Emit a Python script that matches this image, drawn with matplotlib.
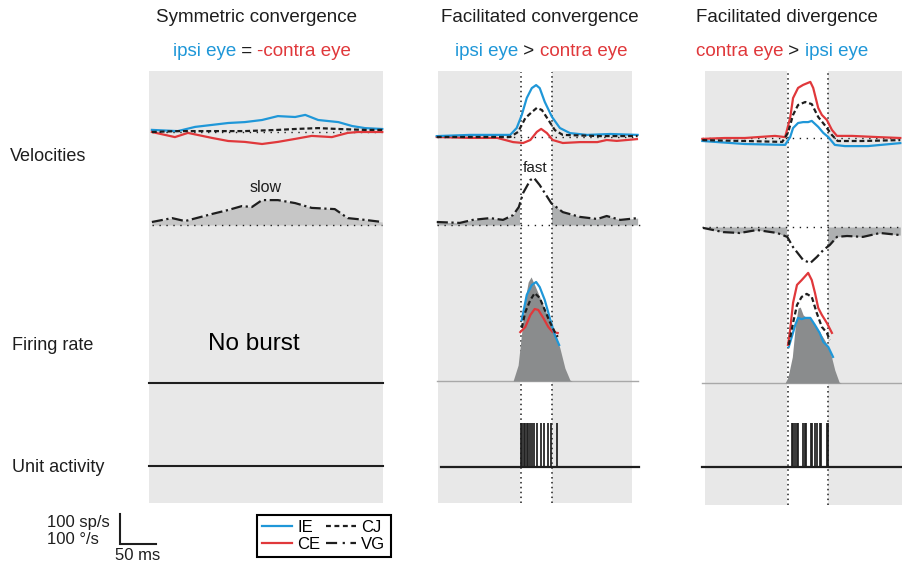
import matplotlib
matplotlib.use("Agg")
import matplotlib.pyplot as plt
from matplotlib.lines import Line2D
from matplotlib.patches import Rectangle
from matplotlib.offsetbox import TextArea, HPacker, AnnotationBbox

plt.rcParams['font.family'] = ['Liberation Sans', 'DejaVu Sans']

BLUE = '#1f97d8'
RED = '#e0383b'
INK = '#1e1e1e'
PANEL = '#e8e8e8'
FILL_SLOW = '#c6c6c6'
FILL_VG = '#aeb0b1'
FILL_FR = '#8a8c8d'

# ---------------- data (time in ms, values in deg/s or sp/s) ----------------
# Column 1: symmetric convergence (t from panel start)
c1_ie_t = [4, 40, 64, 110, 133, 157, 179, 203, 217, 235, 263, 282, 300, 324]
c1_ie_v = [7, 3, 17, 30, 33, 40, 53, 50, 57, 40, 33, 20, 13, 10]
c1_ce_t = [4, 36, 54, 88, 110, 133, 157, 179, 203, 226, 254, 276, 290, 324]
c1_ce_v = [0, -17, -3, -20, -30, -33, -40, -33, -23, -13, -17, -3, 0, 0]
c1_cj_t = [4, 40, 88, 133, 179, 203, 235, 263, 300, 324]
c1_cj_v = [0, 3, 3, 3, 7, 10, 13, 10, 7, 7]
c1_vg_t = [4, 32, 50, 88, 110, 129, 143, 157, 179, 203, 226, 258, 276, 300, 324]
c1_vg_v = [10, 23, 13, 37, 50, 63, 60, 83, 83, 73, 57, 53, 23, 17, 10]

# Column 2: facilitated convergence (t from burst onset)
c2_ie_t = [-117, -71, -15, -6, 1, 8, 15, 21, 26, 33, 43, 54, 68, 92, 124, 162]
c2_ie_v = [3, 7, 7, 30, 73, 130, 163, 173, 163, 117, 67, 30, 13, 7, 10, 7]
c2_cj_t = [-117, -15, -4, 6, 15, 22, 29, 38, 47, 58, 110, 162]
c2_cj_v = [0, 0, 17, 63, 83, 97, 90, 57, 23, 7, 3, 3]
c2_ce_t = [-117, -71, -33, -11, 3, 13, 22, 28, 36, 44, 58, 82, 106, 119, 133, 161]
c2_ce_v = [0, -3, -3, -17, -20, -10, 17, 27, 13, -10, -20, -17, -17, -10, -13, -7]
c2_vg_t = [-117, -85, -67, -43, -25, -11, -3, 3, 13, 18, 26, 42, 58, 82, 106, 119, 138, 162]
c2_vg_v = [10, 7, 17, 23, 17, 33, 60, 107, 150, 157, 133, 73, 43, 27, 20, 30, 17, 23]
c2_fr_t = [-11, -4, 1, 6, 10, 14, 19, 29, 38, 47, 54, 61, 68, 71]
c2_fr_v = [0, 53, 163, 277, 330, 347, 320, 263, 210, 163, 110, 43, 3, 0]
c2_fie_t = [1, 8, 15, 21, 26, 33, 40, 47, 53]
c2_fie_v = [203, 287, 320, 330, 313, 270, 210, 153, 120]
c2_fce_t = [-1, 6, 13, 19, 24, 31, 38, 44, 51]
c2_fce_v = [163, 180, 220, 240, 237, 210, 180, 163, 160]
c2_fcj_t = [1, 6, 13, 19, 26, 33, 40, 47, 51]
c2_fcj_v = [177, 230, 270, 293, 277, 237, 197, 163, 147]
c2_spikes = [0, 2, 4, 6, 8, 10, 12.5, 15, 18, 22, 28, 32, 37.5, 42, 50]
c2_gap = (0, 43)

# Column 3: facilitated divergence (t from burst onset)
c3_ce_t = [-119, -88, -60, -18, -4, 3, 7, 14, 21, 31, 35, 42, 47, 54, 61, 68, 89, 125, 156]
c3_ce_v = [-3, 0, 0, 7, 3, 67, 133, 167, 177, 187, 167, 100, 77, 60, 27, 7, 7, 3, 0]
c3_cj_t = [-119, -60, -8, 0, 7, 14, 24, 33, 42, 51, 61, 69, 103, 156]
c3_cj_v = [-7, -10, -13, 17, 77, 110, 120, 113, 70, 43, 10, -10, -10, -7]
c3_ie_t = [-119, -60, -4, 3, 7, 14, 21, 28, 33, 42, 49, 56, 65, 79, 111, 156]
c3_ie_v = [-10, -20, -23, 3, 33, 50, 53, 53, 57, 37, 17, 3, -23, -27, -27, -17]
c3_vg_t = [-118, -90, -67, -43, -15, -1, 7, 21, 31, 40, 49, 58, 68, 82, 104, 128, 156]
c3_vg_v = [-3, -17, -20, -10, -20, -33, -67, -110, -120, -100, -77, -60, -33, -30, -33, -20, -27]
c3_fr_t = [-4, 0, 6, 10, 14, 17, 21, 26, 31, 37.5, 44, 51, 58, 65, 71, 74]
c3_fr_v = [0, 20, 87, 187, 250, 253, 227, 217, 217, 193, 170, 143, 110, 43, 3, 0]
c3_fce_t = [0, 3, 7, 12.5, 19, 28, 33, 37.5, 42, 47, 54, 61]
c3_fce_v = [127, 177, 267, 327, 343, 367, 343, 300, 250, 227, 200, 167]
c3_fcj_t = [1, 7, 12.5, 19, 26, 33, 40, 47, 54, 58]
c3_fcj_v = [127, 200, 260, 287, 297, 287, 233, 187, 167, 143]
c3_fie_t = [1, 6, 10, 14, 19, 24, 31, 37.5, 44, 49, 56, 62.5]
c3_fie_v = [120, 160, 193, 217, 213, 217, 217, 193, 167, 137, 120, 87]
c3_spikes = [5.5, 7.5, 10, 12, 14, 21, 23, 25, 32, 34, 37.5, 40, 44, 46, 54, 56]
c3_gap = (0, 56)

# ---------------- layout ----------------
W, H = 902, 564
KX = 0.72   # px per ms
KY = 0.30   # px per unit
TOP, BOT = 60, 515
REF_PY = 467

fig = plt.figure(figsize=(W / 100, H / 100), dpi=100)


def ty(py):
    return (REF_PY - py) / KY


def make_ax(L, R, px0):
    ax = fig.add_axes([L / W, 1 - BOT / H, (R - L) / W, (BOT - TOP) / H])
    ax.set_xlim((L - px0) / KX, (R - px0) / KX)
    ax.set_ylim(ty(BOT), ty(TOP))
    ax.axis('off')
    tx = lambda px: (px - px0) / KX
    return ax, tx


LW = 1.6
DASH_CJ = (0, (2.2, 1.3))
DASH_VG = (0, (5, 1.6, 1, 1.6))
DOT = (0, (1, 4))
VDOT = (0, (1, 2.2))


def shifted(vals, base):
    return [base + v for v in vals]


def hline(ax, x0, x1, y, **kw):
    ax.plot([x0, x1], [y, y], **kw)


# ----- column 1 -----
ax1, tx1 = make_ax(140, 395, 149)
ax1.add_patch(Rectangle((tx1(149), ty(503)), (383 - 149) / KX, (503 - 71) / KY,
                        color=PANEL, lw=0, zorder=0))
b_vel, b_vg, b_fr, b_un = ty(132), ty(225), ty(383), ty(466)
ax1.fill_between(c1_vg_t, b_vg, shifted(c1_vg_v, b_vg), color=FILL_SLOW, lw=0, zorder=1)
hline(ax1, tx1(152), tx1(382), b_vg, color=INK, lw=1, ls=DOT, zorder=3)
hline(ax1, tx1(152), tx1(382), b_vel, color=INK, lw=1, ls=DOT, zorder=3)
ax1.plot(c1_vg_t, shifted(c1_vg_v, b_vg), color=INK, lw=LW, ls=DASH_VG, zorder=4)
ax1.plot(c1_ie_t, shifted(c1_ie_v, b_vel), color=BLUE, lw=LW, zorder=4)
ax1.plot(c1_ce_t, shifted(c1_ce_v, b_vel), color=RED, lw=LW, zorder=4)
ax1.plot(c1_cj_t, shifted(c1_cj_v, b_vel), color=INK, lw=LW, ls=DASH_CJ, zorder=5)
hline(ax1, tx1(149), tx1(383), b_fr, color=INK, lw=1.5, zorder=4)
hline(ax1, tx1(149), tx1(383), b_un, color=INK, lw=1.5, zorder=4)
ax1.text(tx1(266), ty(187), 'slow', ha='center', va='center', fontsize=11.5, color=INK)
ax1.text(tx1(254), ty(344), 'No burst', ha='center', va='center', fontsize=17.5, color='black')

# scale bar (100 units x 50 ms) drawn in column-1 data units
sx, sy = tx1(120), ty(544)
ax1.plot([sx, sx, sx + 50], [sy + 100, sy, sy], color=INK, lw=1.5, clip_on=False,
         solid_joinstyle='miter')


def facil_column(ax, tx, gray_l, gray_r, gray_b, gap, x_left, x_right,
                 bases, vel, vg, fr, frl, spikes, un_left):
    b_vel, b_vg, b_fr, b_un = bases
    ax.add_patch(Rectangle((tx(gray_l), ty(gray_b)), (gray_r - gray_l) / KX,
                           (gray_b - 71) / KY, color=PANEL, lw=0, zorder=0))
    vt, vv = vg
    ax.fill_between(vt, b_vg, shifted(vv, b_vg), color=FILL_VG, lw=0, zorder=1)
    g0, g1 = gap
    ax.add_patch(Rectangle((g0 - 1.4, ty(gray_b + 2)), (g1 - g0) + 1.4, (gray_b + 2 - 60) / KY,
                           color='white', lw=0, zorder=2))
    for g in gap:
        ax.plot([g, g], [ty(gray_b), ty(72)], color=INK, lw=1.1, ls=VDOT, zorder=3)
    hline(ax, tx(x_left), tx(x_right), b_vel, color=INK, lw=1, ls=DOT, zorder=3)
    hline(ax, tx(x_left), tx(x_right + 2), b_vg, color=INK, lw=1, ls=DOT, zorder=3)
    hline(ax, tx(x_left), tx(x_right), b_fr, color='#a8a8a8', lw=1, zorder=3)
    hline(ax, tx(un_left), tx(x_right + 1), b_un, color=INK, lw=1.6, zorder=4)
    ax.plot(vt, shifted(vv, b_vg), color=INK, lw=LW, ls=DASH_VG, zorder=4)
    ft, fv = fr
    ax.fill_between(ft, b_fr, shifted(fv, b_fr), color=FILL_FR, lw=0, zorder=3)
    for (t, v, col, ls) in vel:
        ax.plot(t, shifted(v, b_vel), color=col, lw=LW, ls=ls, zorder=4)
    for (t, v, col, ls) in frl:
        ax.plot(t, shifted(v, b_fr), color=col, lw=LW, ls=ls, zorder=4)
    ax.vlines(spikes, b_un, b_un + 44 / KY, color=INK, lw=1.25, zorder=4)


# ----- column 2 -----
ax2, tx2 = make_ax(430, 645, 521)
facil_column(ax2, tx2, 438, 632, 503, c2_gap, 437, 638,
             (ty(137), ty(225), ty(381), ty(467)),
             [(c2_ce_t, c2_ce_v, RED, '-'), (c2_ie_t, c2_ie_v, BLUE, '-'),
              (c2_cj_t, c2_cj_v, INK, DASH_CJ)],
             (c2_vg_t, c2_vg_v), (c2_fr_t, c2_fr_v),
             [(c2_fce_t, c2_fce_v, RED, '-'), (c2_fie_t, c2_fie_v, BLUE, '-'),
              (c2_fcj_t, c2_fcj_v, INK, DASH_CJ)],
             c2_spikes, 441)
ax2.text(tx2(535), ty(168), 'fast', ha='center', va='center', fontsize=11, color=INK)

# ----- column 3 -----
ax3, tx3 = make_ax(695, 902, 788)
facil_column(ax3, tx3, 705, 902, 505, c3_gap, 702, 902,
             (ty(138), ty(227), ty(383), ty(467)),
             [(c3_ie_t, c3_ie_v, BLUE, '-'), (c3_ce_t, c3_ce_v, RED, '-'),
              (c3_cj_t, c3_cj_v, INK, DASH_CJ)],
             (c3_vg_t, c3_vg_v), (c3_fr_t, c3_fr_v),
             [(c3_fie_t, c3_fie_v, BLUE, '-'), (c3_fce_t, c3_fce_v, RED, '-'),
              (c3_fcj_t, c3_fcj_v, INK, DASH_CJ)],
             c3_spikes, 702)

# ---------------- text ----------------
def ftext(x, y, s, **kw):
    fig.text(x / W, 1 - y / H, s, **kw)


def colored_line(parts, xc, yc, size):
    areas = [TextArea(s, textprops=dict(color=c, fontsize=size)) for s, c in parts]
    box = HPacker(children=areas, align='baseline', pad=0, sep=0)
    ab = AnnotationBbox(box, (xc / W, 1 - yc / H), xycoords='figure fraction',
                        frameon=False, box_alignment=(0.5, 0.5), pad=0)
    fig.add_artist(ab)


TS = 13.5
ftext(256, 18, 'Symmetric convergence', ha='center', va='center', fontsize=TS, color=INK)
ftext(540, 18, 'Facilitated convergence', ha='center', va='center', fontsize=TS, color=INK)
ftext(787, 18, 'Facilitated divergence', ha='center', va='center', fontsize=TS, color=INK)
colored_line([('ipsi eye', BLUE), (' = ', INK), ('-contra eye', RED)], 262, 52, TS)
colored_line([('ipsi eye', BLUE), (' > ', INK), ('contra eye', RED)], 541, 52, TS)
colored_line([('contra eye', RED), (' > ', INK), ('ipsi eye', BLUE)], 782, 52, TS)

ftext(10, 156, 'Velocities', ha='left', va='center', fontsize=13, color=INK)
ftext(12, 345, 'Firing rate', ha='left', va='center', fontsize=13, color=INK)
ftext(12, 468, 'Unit activity', ha='left', va='center', fontsize=13, color=INK)

ftext(47, 522, '100 sp/s', ha='left', va='center', fontsize=12, color=INK)
ftext(47, 540, '100 °/s', ha='left', va='center', fontsize=12, color=INK)
ftext(138, 556, '50 ms', ha='center', va='center', fontsize=12, color=INK)

# ---------------- legend ----------------
handles = [Line2D([], [], color=BLUE, lw=1.6), Line2D([], [], color=RED, lw=1.6),
           Line2D([], [], color=INK, lw=1.6, ls=(0, (2.2, 1.6))),
           Line2D([], [], color=INK, lw=1.6, ls=(0, (5, 2.5, 1, 2.5)))]
leg = fig.legend(handles, ['IE', 'CE', 'CJ', 'VG'], ncol=2, loc='center',
                 bbox_to_anchor=(324 / W, 1 - 536 / H), fontsize=12,
                 frameon=True, fancybox=False, edgecolor='black', framealpha=1,
                 handlelength=1.8, handletextpad=0.3, columnspacing=0.35,
                 labelspacing=0.12, borderpad=0.3, borderaxespad=0)
leg.get_frame().set_linewidth(1.5)

fig.savefig('out.png', dpi=100)
